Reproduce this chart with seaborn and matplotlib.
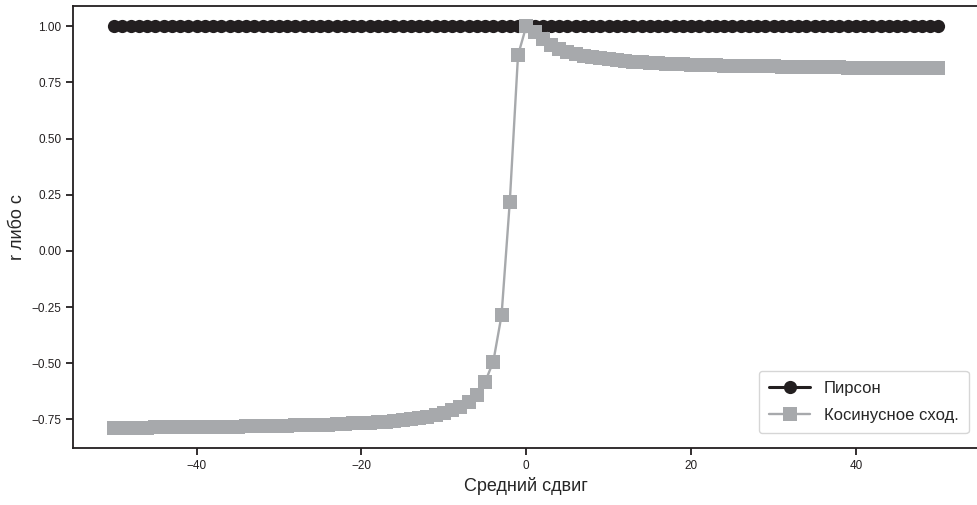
import matplotlib
matplotlib.use("Agg")
import matplotlib.pyplot as plt
import numpy as np
import pandas as pd
import seaborn as sns

# mean shift applied to the second vector
shift = list(range(-50, 51))

# pearson stays at 1 whatever the shift
pearson = [1.0] * len(shift)

# cosine similarity, shift -50 .. 50
cosine_neg = [
    -0.788, -0.788, -0.787, -0.787, -0.787, -0.786, -0.786, -0.786, -0.785, -0.785,
    -0.785, -0.784, -0.784, -0.783, -0.783, -0.782, -0.781, -0.781, -0.780, -0.779,
    -0.779, -0.778, -0.777, -0.776, -0.775, -0.774, -0.773, -0.771, -0.770, -0.768,
    -0.767, -0.765, -0.762, -0.760, -0.757, -0.753, -0.749, -0.745, -0.739, -0.732,
    -0.722, -0.710, -0.694, -0.672, -0.640, -0.584, -0.493, -0.287, 0.218, 0.871,
]
cosine_zero = [1.0]
cosine_pos = [
    0.973, 0.941, 0.917, 0.900, 0.887, 0.877, 0.869, 0.862, 0.857, 0.852,
    0.848, 0.845, 0.842, 0.839, 0.837, 0.835, 0.833, 0.832, 0.830, 0.829,
    0.828, 0.827, 0.826, 0.825, 0.824, 0.823, 0.823, 0.822, 0.821, 0.821,
    0.820, 0.820, 0.819, 0.819, 0.818, 0.818, 0.817, 0.817, 0.816, 0.816,
    0.816, 0.815, 0.815, 0.815, 0.814, 0.814, 0.814, 0.814, 0.813, 0.813,
]
cosine = cosine_neg + cosine_zero + cosine_pos

labels = ["Пирсон", "Косинусное сход."]

sns.set_theme(style="ticks")
plt.rcParams["font.family"] = ["Liberation Sans", "DejaVu Sans"]

df = pd.DataFrame({"shift": shift, "pearson": pearson, "cosine": cosine})

fig = plt.figure(figsize=(9.78, 5.05), dpi=100)
ax = fig.add_axes([0.0746, 0.1129, 0.927, 0.875])

sns.lineplot(data=df, x="shift", y="pearson", ax=ax, color="#231f20", lw=2.2,
             marker="o", markersize=9.5, markeredgewidth=0, label=labels[0])
sns.lineplot(data=df, x="shift", y="cosine", ax=ax, color="#a7a9ac", lw=1.7,
             marker="s", markersize=9.5, markeredgewidth=0, label=labels[1])

ax.set_xlabel("Средний сдвиг", fontsize=13)
ax.set_ylabel("r либо c", fontsize=13)
ax.set_xticks([-40, -20, 0, 20, 40])
ax.set_yticks([-0.75, -0.5, -0.25, 0.0, 0.25, 0.5, 0.75, 1.0])
ax.set_yticklabels([f"{v:.2f}".replace("-", "\u2212") for v in ax.get_yticks()])
ax.tick_params(labelsize=8.5, length=5, width=1.3, colors="#231f20")
for s in ax.spines.values():
    s.set_linewidth(1.3)
    s.set_color("#231f20")

leg = ax.legend(loc="lower right", fontsize=12, frameon=True, borderpad=0.6,
                labelspacing=0.75, handlelength=2.5, bbox_to_anchor=(0.997, 0.015))
leg.get_frame().set_edgecolor("#cccccc")

fig.savefig("out.png", dpi=100)
